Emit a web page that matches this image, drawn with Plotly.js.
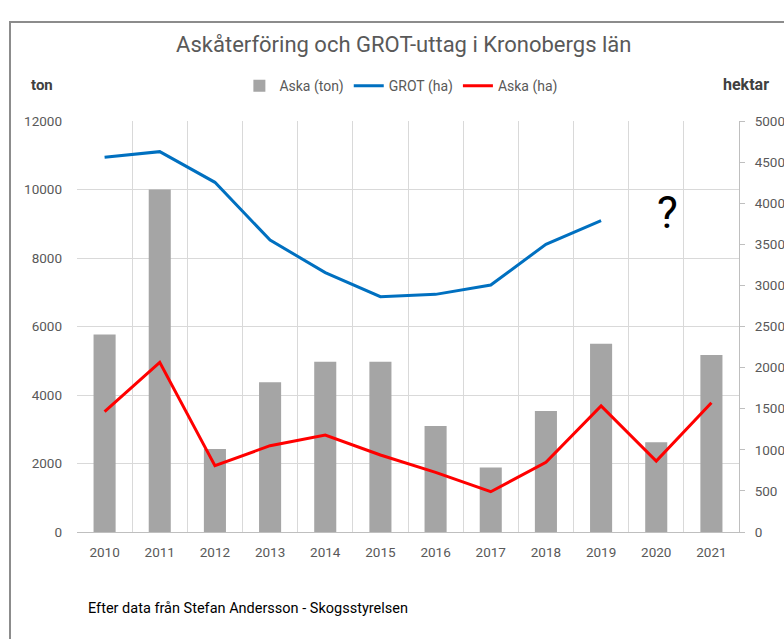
<!DOCTYPE html>
<html>
<head>
<meta charset="utf-8">
<script src="https://cdn.plot.ly/plotly-3.0.1.min.js"></script>
<style>html,body{margin:0;padding:0;background:#fff;}#chart{width:784px;height:639px;}</style>
</head>
<body>
<div id="chart"></div>
<script>
const years = [2010, 2011, 2012, 2013, 2014, 2015, 2016, 2017, 2018, 2019, 2020, 2021];
const askaTon = [5770, 10000, 2420, 4370, 4970, 4970, 3095, 1880, 3535, 5500, 2620, 5170];
const grotHa = [4560, 4627, 4254, 3552, 3155, 2863, 2891, 3005, 3500, 3788, null, null];
const askaHa = [1464, 2064, 807, 1050, 1180, 937, 726, 490, 848, 1533, 864, 1573];
const leftTicks = [0, 2000, 4000, 6000, 8000, 10000, 12000];
const rightTicks = [0, 500, 1000, 1500, 2000, 2500, 3000, 3500, 4000, 4500, 5000];

const FONT = '"Roboto", "Liberation Sans", sans-serif';
const GRAY = '#595959';

const traces = [
  {type: 'bar', name: 'Aska (ton)', x: years, y: askaTon, marker: {color: '#a5a5a5'}, width: 0.4, yaxis: 'y'},
  {type: 'scatter', mode: 'lines', name: 'GROT (ha)', x: years, y: grotHa, line: {color: '#0070c0', width: 3}, yaxis: 'y2', connectgaps: false},
  {type: 'scatter', mode: 'lines', name: 'Aska (ha)', x: years, y: askaHa, line: {color: '#ff0000', width: 3}, yaxis: 'y2'}
];

const layout = {
  width: 784, height: 639,
  margin: {l: 77, r: 45, t: 121, b: 107},
  paper_bgcolor: '#fff', plot_bgcolor: '#fff',
  font: {family: FONT, size: 13.5, color: GRAY},
  title: {text: 'Askåterföring och GROT-uttag i Kronobergs län', x: 0.515, xanchor: 'center', y: 0.931, yanchor: 'middle', font: {size: 22, color: GRAY, family: FONT}},
  showlegend: true,
  legend: {orientation: 'h', x: 0.49, xanchor: 'center', y: 1.085, yanchor: 'middle', font: {size: 14, color: GRAY}, itemwidth: 30, traceorder: 'normal'},
  xaxis: {
    range: [2009.5, 2021.5], tickvals: years, ticktext: years.map(String),
    showgrid: false, zeroline: false, showline: true, linecolor: '#bfbfbf', linewidth: 1,
    ticks: '', ticklabelstandoff: 8, fixedrange: true,
    minor: {tick0: 2009.5, dtick: 1, showgrid: true, gridcolor: '#d9d9d9', gridwidth: 1, ticks: ''}
  },
  yaxis: {
    range: [0, 12000], tickvals: leftTicks, ticktext: leftTicks.map(String),
    showgrid: true, gridcolor: '#d9d9d9', gridwidth: 1, zeroline: false, showline: false,
    ticks: '', ticklabelstandoff: 14
  },
  yaxis2: {
    range: [0, 5000], tickvals: rightTicks, ticktext: rightTicks.map(String),
    overlaying: 'y', side: 'right', showgrid: false, zeroline: false,
    showline: true, linecolor: '#bfbfbf', linewidth: 1,
    ticks: 'outside', ticklen: 5, tickcolor: '#bfbfbf', ticklabelstandoff: 7
  },
  shapes: [
    {type: 'rect', xref: 'paper', yref: 'paper', x0: -0.1012, x1: 1.08, y0: -0.28, y1: 1.2409, line: {color: '#8c8c8c', width: 2}, fillcolor: 'rgba(0,0,0,0)', layer: 'below'}
  ],
  annotations: [
    {text: '<b>ton</b>', xref: 'paper', yref: 'paper', x: -0.0529, y: 1.0876, xanchor: 'center', yanchor: 'middle', showarrow: false, font: {size: 15, color: '#404040'}},
    {text: '<b>hektar</b>', xref: 'paper', yref: 'paper', x: 0.9728, y: 1.0876, xanchor: 'left', yanchor: 'middle', showarrow: false, font: {size: 16, color: '#404040'}},
    {text: 'Efter data från Stefan Andersson - Skogsstyrelsen', xref: 'paper', yref: 'paper', x: 0.0136, y: -0.1873, xanchor: 'left', yanchor: 'middle', showarrow: false, font: {size: 14.5, color: '#000'}},
    {text: '?', xref: 'x', yref: 'y2', x: 2020.21, y: 3880, xanchor: 'center', yanchor: 'middle', showarrow: false, font: {size: 44, color: '#000'}}
  ]
};

Plotly.newPlot('chart', traces, layout, {displayModeBar: false, staticPlot: true});
</script>
</body>
</html>
